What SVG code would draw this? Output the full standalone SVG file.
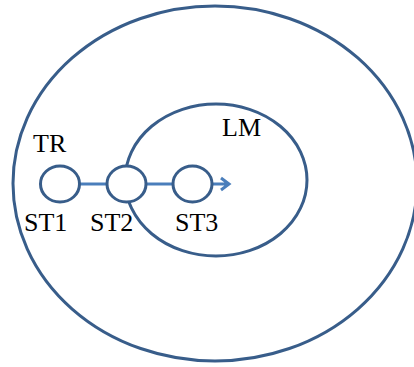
<svg xmlns="http://www.w3.org/2000/svg" width="414" height="367" viewBox="0 0 414 367">
<defs>
<style>
.shape{fill:none;stroke:#385d8a;stroke-width:3}
.node{fill:#fff;stroke:#385d8a;stroke-width:3}
.link{fill:none;stroke:#4a7ebb;stroke-width:3}
.lbl{font-family:"Liberation Serif","Times New Roman","DejaVu Serif",serif;font-size:26px;fill:#000}
</style>
<marker id="arr" viewBox="0 0 10 10" refX="9" refY="5" markerWidth="5" markerHeight="5" markerUnits="userSpaceOnUse" orient="auto">
<path d="M1,1 L9,5 L1,9" fill="none" stroke="#4a7ebb" stroke-width="2"/>
</marker>
</defs>
<g id="outer"><ellipse class="shape" cx="215" cy="183.5" rx="202" ry="177.5"/></g>
<g id="LM"><ellipse class="shape" cx="216" cy="180" rx="91" ry="76"/><text class="lbl" x="222" y="136" font-family="Liberation Serif, serif">LM</text></g>
<g id="connectors">
<line class="link" x1="80" y1="184" x2="107" y2="184"/>
<line class="link" x1="146" y1="184" x2="173" y2="184"/>
<path class="link" d="M212,184 H229 M221,178 L229,184 L221,190"/>
</g>
<g id="ST1"><ellipse class="node" cx="60" cy="184" rx="19.5" ry="18"/><text class="lbl" x="24" y="231" font-family="Liberation Serif, serif">ST1</text></g>
<g id="TR"><text class="lbl" x="33" y="152" font-family="Liberation Serif, serif">TR</text></g>
<g id="ST2"><ellipse class="node" cx="126.5" cy="184" rx="19.5" ry="18"/><text class="lbl" x="90" y="231" font-family="Liberation Serif, serif">ST2</text></g>
<g id="ST3"><ellipse class="node" cx="192.5" cy="184" rx="19.5" ry="18"/><text class="lbl" x="175" y="231" font-family="Liberation Serif, serif">ST3</text></g>
</svg>
